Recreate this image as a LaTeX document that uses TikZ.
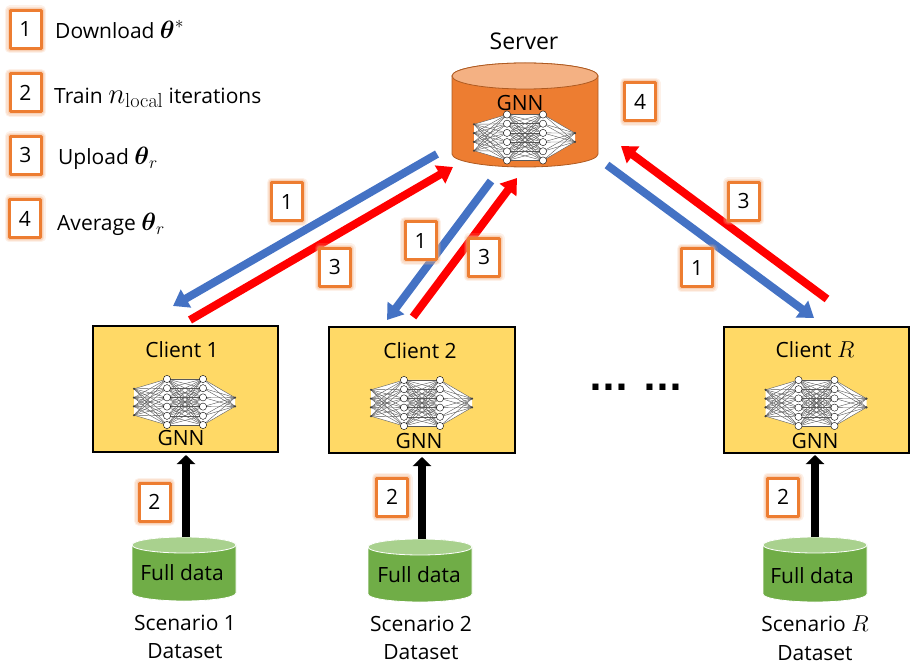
\RequirePackage{fix-cm}
\documentclass[tikz,border=0pt]{standalone}
\usepackage{amsmath}
\usepackage[no-math]{fontspec}
\setmainfont{Open Sans}
\newfontfamily\dotsfont{DejaVu Sans}
\usetikzlibrary{arrows.meta}
\definecolor{badgeline}{HTML}{ED7D31}
\definecolor{badgeglow}{HTML}{F4B183}
\definecolor{arrowblue}{HTML}{4472C4}
\definecolor{clientfill}{HTML}{FFD966}
\definecolor{greenbody}{HTML}{70AD47}
\definecolor{greentop}{HTML}{A9D18E}
\definecolor{orangeedge}{HTML}{AE5A21}
\newcommand{\bigmath}[1]{{\fontsize{25}{26}\selectfont$#1$}}
\newcommand{\midmath}[1]{{\fontsize{23}{26}\selectfont$#1$}}
\newcommand{\hugemath}[1]{{\fontsize{29}{30}\selectfont$#1$}}
\newcommand{\drumshape}[8]{%
  % cx, ytop, rx, ry, ybottom, body, top, edge
  \path[fill=#6,draw=#8,line width=.8]
    ({#1-#3},{#2+#4}) -- ({#1-#3},{#5-#4})
    arc[start angle=180,end angle=0,x radius=#3,y radius=#4]
    -- ({#1+#3},{#2+#4})
    arc[start angle=0,end angle=-180,x radius=#3,y radius=#4] -- cycle;
  \path[fill=#7,draw=#8,line width=.8] (#1,{#2+#4}) ellipse[x radius=#3,y radius=#4];
}
\tikzset{
  x=1pt,y=-1pt,
  lbl/.style={font=\fontsize{21}{24}\selectfont,inner sep=0pt},
  legendtext/.style={lbl,anchor=base west},
  badge/.style={draw=badgeline,fill=white,line width=3,minimum width=31,minimum height=38,inner sep=0pt,
    font=\fontsize{21}{23}\selectfont,line join=round,
    preaction={draw=badgeglow,opacity=.18,line width=10,line join=round},
    preaction={draw=badgeglow,opacity=.25,line width=7.5,line join=round},
    preaction={draw=badgeglow,opacity=.35,line width=5,line join=round}},
  clientbox/.style={draw=black,fill=clientfill,line width=1.1,inner sep=0pt},
  fat/.style={line width=8,-{Triangle[length=15,width=20]}},
  bluearrow/.style={fat,draw=arrowblue},
  redarrow/.style={fat,draw=red},
  blackarrow/.style={line width=8.5,draw=black,-{Triangle[length=9,width=18]}},
  netline/.style={draw=black!65,line width=.4},
  neuron/.style={circle,draw=black,fill=white,line width=.4,minimum size=7.2,inner sep=0pt},
  tinyneuron/.style={circle,fill=black!75,minimum size=2.4,inner sep=0pt},
  gnnnet/.pic={
    \foreach \i/\yy in {1/-13.2,2/-4.4,3/4.4,4/13.2} \coordinate (a\i) at (-51,\yy);
    \foreach \i/\yy in {1/-23,2/-13.8,3/-4.6,4/4.6,5/13.8,6/23} {
      \coordinate (b\i) at (-18,\yy);
      \coordinate (c\i) at (18,\yy);
    }
    \foreach \i/\yy in {1/-4.4,2/4.4} \coordinate (d\i) at (50,\yy);
    \fill[white] (a1)--(b1)--(c1)--(d1)--(d2)--(c6)--(b6)--(a4)--cycle;
    \foreach \i in {1,...,4} \foreach \j in {1,...,6} \draw[netline] (a\i) -- (b\j);
    \foreach \i in {1,...,6} \foreach \j in {1,...,6} \draw[netline] (b\i) -- (c\j);
    \foreach \i in {1,...,6} \foreach \j in {1,2} \draw[netline] (c\i) -- (d\j);
    \foreach \i in {1,...,4} \node[tinyneuron] (na\i) at (a\i) {};
    \foreach \i in {1,...,6} { \node[neuron] (nb\i) at (b\i) {}; \node[neuron] (nc\i) at (c\i) {}; }
    \foreach \i in {1,2} \node[tinyneuron] (nd\i) at (d\i) {};
  }
}
\begin{document}
\begin{tikzpicture}
\useasboundingbox (0,0) rectangle (916,668);
% server
\drumshape{525}{63}{73}{13}{167}{badgeline}{badgeglow}{orangeedge}
\pic (netS) at (525,137.5) {gnnnet};
\node[lbl,font=\fontsize{23}{26}\selectfont] (serverlabel) at (524,41) {Server};
\node[lbl] (servergnn) at (520,103) {GNN};
\coordinate (sbl) at (437,154); \coordinate (ctl) at (173,306);
\coordinate (c1r) at (190,320); \coordinate (srl) at (453,167);
\coordinate (sbm) at (491,181); \coordinate (ctm) at (387,320);
\coordinate (c2r) at (413,317); \coordinate (srm) at (517,178);
\coordinate (crr) at (827,299); \coordinate (srr) at (621,146);
\coordinate (sbr) at (607,165); \coordinate (ctr) at (814,318);
% clients
\node[clientbox,minimum width=185,minimum height=126] (client1) at (185.5,389) {};
\node[clientbox,minimum width=186,minimum height=126] (client2) at (422,390) {};
\node[clientbox,minimum width=185,minimum height=126] (clientR) at (816.5,390) {};
\pic (net1) at (185,402) {gnnnet};
\pic (net2) at (422,403) {gnnnet};
\pic (netR) at (816.5,403) {gnnnet};
\node[lbl] (c1label) at (182,350) {Client 1};
\node[lbl] (c2label) at (420,351) {Client 2};
\node[lbl] (cRlabel) at (815,350) {Client \midmath{R}};
\node[lbl] (g1) at (181,438) {GNN};
\node[lbl] (g2) at (419,441) {GNN};
\node[lbl] (gR) at (815,441) {GNN};
% fat arrows
\draw[bluearrow] (sbl) -- (ctl);
\draw[redarrow] (c1r) -- (srl);
\draw[bluearrow] (sbm) -- (ctm);
\draw[redarrow] (c2r) -- (srm);
\draw[redarrow] (crr) -- (srr);
\draw[bluearrow] (sbr) -- (ctr);
% datasets
\coordinate (d1top) at (186,537); \coordinate (d2top) at (422,539); \coordinate (dRtop) at (815,537);
\coordinate (c1bot) at (186,455); \coordinate (c2bot) at (422,457); \coordinate (cRbot) at (815,455);
\drumshape{184}{537}{52}{8}{601}{greenbody}{greentop}{white}
\drumshape{420}{539}{52}{8}{602}{greenbody}{greentop}{white}
\drumshape{815}{537}{52}{8}{602}{greenbody}{greentop}{white}
\draw[blackarrow] (d1top) -- (c1bot);
\draw[blackarrow] (d2top) -- (c2bot);
\draw[blackarrow] (dRtop) -- (cRbot);
\node[lbl] (f1) at (182,573) {Full data};
\node[lbl] (f2) at (419,575) {Full data};
\node[lbl] (fR) at (812,576) {Full data};
\node[lbl] (s1) at (185,623) {Scenario 1};
\node[lbl] (t1) at (185,651) {Dataset};
\node[lbl] (s2) at (421,624) {Scenario 2};
\node[lbl] (t2) at (421,652) {Dataset};
\node[lbl] (sR) at (815,624) {Scenario \midmath{R}};
\node[lbl] (tR) at (815,653) {Dataset};
\node[font=\dotsfont\bfseries\fontsize{34}{38}\selectfont,inner sep=0pt,anchor=base] (dots) at (636,391) {... ...};
% legend
\node[badge] (l1) at (25.5,29.5) {1};
\node[badge] (l2) at (25.5,93) {2};
\node[badge] (l3) at (25.5,155.5) {3};
\node[badge] (l4) at (25,218.5) {4};
\node[legendtext] (lt1) at (55,39) {Download \bigmath{\boldsymbol{\theta}^{*}}};
\node[legendtext] (lt2) at (54,103.5) {Train \hugemath{n_{\mathrm{local}}} iterations};
\node[legendtext] (lt3) at (58,165) {Upload \bigmath{\boldsymbol{\theta}_{r}}};
\node[legendtext] (lt4) at (57,231) {Average \bigmath{\boldsymbol{\theta}_{r}}};
% step badges
\node[badge] (bA) at (287,202) {1};
\node[badge] (bB) at (335,267.5) {3};
\node[badge] (bC) at (420.5,241) {1};
\node[badge] (bD) at (484,257.5) {3};
\node[badge] (bE) at (743.5,201.5) {3};
\node[badge] (bF) at (697,268) {1};
\node[badge] (bG) at (640,102) {4};
\node[badge] (bH) at (154.5,502) {2};
\node[badge] (bI) at (392,497) {2};
\node[badge] (bJ) at (783,497) {2};
\end{tikzpicture}
\end{document}
